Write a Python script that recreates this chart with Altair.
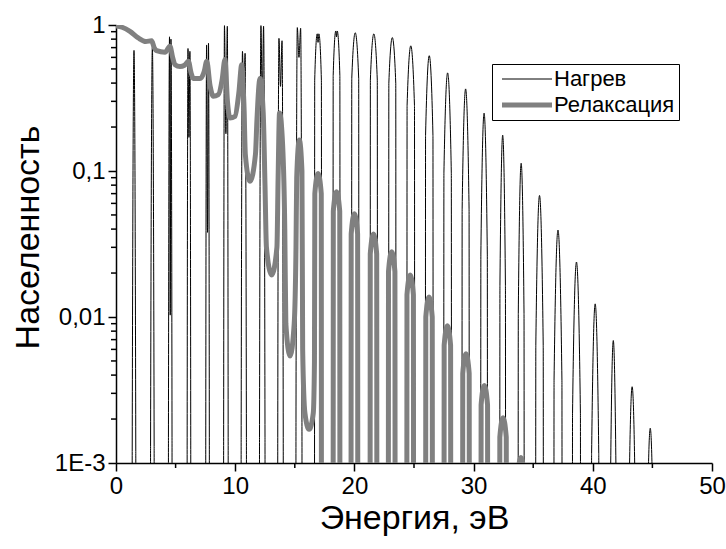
import altair as alt
import pandas as pd

# ---- data ----
series_names = ["Нагрев", "Релаксация"]

heat_x = [
    1.34, 1.36, 1.51, 1.66, 1.68,
    2.88, 2.90, 3.05, 3.20, 3.22,
    4.38, 4.40, 4.49, 4.55, 4.61, 4.70, 4.72,
    5.95, 5.97, 6.04, 6.12, 6.20, 6.27, 6.29,
    7.51, 7.53, 7.60, 7.68, 7.76, 7.83, 7.85,
    9.01, 9.03, 9.10, 9.22, 9.34, 9.41, 9.43,
    10.48, 10.50, 10.61, 10.72, 10.83, 10.94, 10.96,
    12.02, 12.04, 12.16, 12.27, 12.38, 12.50, 12.52,
    13.55, 13.57, 13.67, 13.80, 13.93, 14.03, 14.05,
    15.07, 15.10, 15.21, 15.35, 15.49, 15.60, 15.63,
    16.64, 16.67, 16.88, 16.95, 17.02, 17.23, 17.26,
    18.19, 18.22, 18.44, 18.50, 18.56, 18.78, 18.81,
    19.75, 19.78, 20.07, 20.36, 20.39,
    21.31, 21.34, 21.63, 21.92, 21.95,
    22.86, 22.89, 23.18, 23.47, 23.50,
    24.39, 24.42, 24.73, 25.04, 25.07,
    25.94, 25.97, 26.28, 26.59, 26.62,
    27.48, 27.51, 27.82, 28.13, 28.16,
    29.01, 29.04, 29.33, 29.62, 29.65,
    30.58, 30.61, 30.88, 31.15, 31.18,
    32.18, 32.21, 32.44, 32.67, 32.70,
    33.72, 33.75, 33.99, 34.23, 34.26,
    35.19, 35.22, 35.53, 35.84, 35.87,
    36.72, 36.75, 37.08, 37.41, 37.44,
    38.27, 38.30, 38.63, 38.96, 38.99,
    39.87, 39.90, 40.20, 40.50, 40.53,
    41.45, 41.48, 41.72, 41.96, 41.99,
    42.97, 43.00, 43.30, 43.60, 43.63,
    44.49, 44.52, 44.82, 45.12, 45.15,
]
heat_y = [
    1e-6, 0.0012, 0.67, 0.0012, 1e-6,
    1e-6, 0.0013, 0.70, 0.0013, 1e-6,
    1e-6, 0.0015, 0.83, 0.0103, 0.80, 0.0015, 1e-6,
    1e-6, 0.0015, 0.69, 0.17, 0.66, 0.0015, 1e-6,
    1e-6, 0.0015, 0.73, 0.038, 0.75, 0.0015, 1e-6,
    1e-6, 0.0015, 0.99, 0.18, 0.98, 0.0015, 1e-6,
    1e-6, 0.0015, 0.66, 0.30, 0.64, 0.0015, 1e-6,
    1e-6, 0.0015, 0.99, 0.30, 0.98, 0.0015, 1e-6,
    1e-6, 0.0015, 0.81, 0.38, 0.78, 0.0015, 1e-6,
    1e-6, 0.0020, 0.96, 0.60, 0.95, 0.0020, 1e-6,
    1e-6, 0.42, 0.87, 0.76, 0.87, 0.42, 1e-6,
    1e-6, 0.45, 0.91, 0.83, 0.91, 0.45, 1e-6,
    1e-6, 0.43, 0.885, 0.43, 1e-6,
    1e-6, 0.42, 0.87, 0.42, 1e-6,
    1e-6, 0.40, 0.82, 0.40, 1e-6,
    1e-6, 0.28, 0.72, 0.28, 1e-6,
    1e-6, 0.175, 0.616, 0.175, 1e-6,
    1e-6, 0.097, 0.47, 0.097, 1e-6,
    1e-6, 0.055, 0.365, 0.055, 1e-6,
    1e-6, 0.027, 0.249, 0.027, 1e-6,
    1e-6, 0.0165, 0.176, 0.0165, 1e-6,
    1e-6, 0.0106, 0.113, 0.0106, 1e-6,
    1e-6, 0.0064, 0.068, 0.0064, 1e-6,
    1e-6, 0.0037, 0.0394, 0.0037, 1e-6,
    1e-6, 0.0022, 0.0238, 0.0022, 1e-6,
    1e-6, 0.00116, 0.0123, 0.00116, 1e-6,
    1e-6, 0.00065, 0.0069, 0.00065, 1e-6,
    1e-6, 0.00031, 0.00333, 0.00031, 1e-6,
    1e-6, 0.00016, 0.00173, 0.00016, 1e-6,
]

relax_x = [
    0.0, 0.5, 1.17, 1.87, 2.5, 2.99, 3.2, 3.41, 4.11, 4.53, 4.75, 4.95,
    5.37, 5.75, 6.07, 6.3, 6.48, 7.05, 7.4, 7.61, 7.9, 8.16, 8.58, 8.9,
    9.14, 9.35, 9.56, 9.98, 10.3, 10.55,
    10.75, 10.85, 11.24, 11.7, 11.82, 12.08,
    12.35, 12.5, 12.62, 13.06, 13.5, 13.6, 13.72,
    13.98, 14.16, 14.25, 14.6, 14.95, 15.1, 15.16, 15.38,
    15.6, 15.66, 15.85, 16.2, 16.55, 16.65, 16.68, 16.95, 17.22, 17.25,
    18.2, 18.23, 18.5, 18.77, 18.8,
    19.7, 19.73, 20.0, 20.27, 20.3,
    21.3, 21.33, 21.6, 21.87, 21.9,
    22.83, 22.86, 23.13, 23.4, 23.43,
    24.38, 24.41, 24.68, 24.95, 24.98,
    25.96, 25.99, 26.26, 26.53, 26.56,
    27.5, 27.53, 27.8, 28.07, 28.1,
    29.06, 29.09, 29.36, 29.63, 29.66,
    30.6, 30.63, 30.9, 31.17, 31.2,
    32.17, 32.2, 32.47, 32.74, 32.77,
    33.67, 33.7, 33.97, 34.24, 34.27,
]
relax_y = [
    0.985, 0.965, 0.905, 0.815, 0.77, 0.78, 0.70, 0.667, 0.65, 0.715, 0.60, 0.535,
    0.52, 0.53, 0.565, 0.47, 0.43, 0.43, 0.48, 0.565, 0.38, 0.325, 0.333, 0.42,
    0.58, 0.30, 0.231, 0.237, 0.34, 0.535,
    0.25, 0.13, 0.085, 0.13, 0.22, 0.43,
    0.25, 0.08, 0.03, 0.0194, 0.03, 0.09, 0.25,
    0.15, 0.04, 0.009, 0.0054, 0.009, 0.03, 0.09, 0.163,
    0.10, 0.006, 0.0022, 0.0017, 0.0022, 0.005, 0.07, 0.096, 0.07, 1e-6,
    1e-6, 0.053, 0.072, 0.053, 1e-6,
    1e-6, 0.037, 0.051, 0.037, 1e-6,
    1e-6, 0.027, 0.037, 0.027, 1e-6,
    1e-6, 0.0204, 0.028, 0.0204, 1e-6,
    1e-6, 0.0142, 0.0194, 0.0142, 1e-6,
    1e-6, 0.010, 0.0137, 0.010, 1e-6,
    1e-6, 0.0064, 0.0087, 0.0064, 1e-6,
    1e-6, 0.0041, 0.0056, 0.0041, 1e-6,
    1e-6, 0.0025, 0.0034, 0.0025, 1e-6,
    1e-6, 0.0015, 0.00204, 0.0015, 1e-6,
    1e-6, 0.0008, 0.00109, 0.0008, 1e-6,
]

x_major = [0, 10, 20, 30, 40, 50]
x_minor = [5, 15, 25, 35, 45]
y_major = [0.001, 0.01, 0.1, 1]
y_minor = [0.002, 0.003, 0.004, 0.005, 0.006, 0.007, 0.008, 0.009,
           0.02, 0.03, 0.04, 0.05, 0.06, 0.07, 0.08, 0.09,
           0.2, 0.3, 0.4, 0.5, 0.6, 0.7, 0.8, 0.9]

# ---- build tables ----
df = pd.DataFrame({
    "E": heat_x + relax_x,
    "N": heat_y + relax_y,
    "series": [series_names[0]] * len(heat_x) + [series_names[1]] * len(relax_x),
})

font = "Liberation Sans"
x_scale = alt.Scale(domain=[0, 50], nice=False, zero=False)
y_scale = alt.Scale(type="log", domain=[0.001, 1], nice=False)

y_label_expr = ("datum.value < 0.005 ? '1E-3' : datum.value < 0.05 ? '0,01' : "
                "datum.value < 0.5 ? '0,1' : '1'")

x_axis = alt.Axis(
    values=x_major, format="d", title="Энергия, эВ", titleFontSize=34,
    titleY=65, titleBaseline="alphabetic", labelFontSize=24, labelPadding=3,
    tickSize=8, labelFlush=False, labelOverlap=False)
y_axis = alt.Axis(
    values=y_major, labelExpr=y_label_expr, title="Населенность", titleFontSize=34,
    titleAngle=270, titleX=-78, titleY=212, titleBaseline="alphabetic",
    titleAlign="center", labelFontSize=24, labelPadding=3, tickSize=8,
    labelFlush=False, labelOverlap=False)

legend = alt.Legend(
    title=None, orient="none", legendX=376, legendY=39, direction="vertical",
    symbolType="M-1,0H9", symbolSize=100, labelFontSize=22, labelFont=font,
    labelColor="black", strokeColor="black", fillColor="white",
    padding=4, rowPadding=4, labelOffset=36,
)

lines = alt.Chart(df).mark_line(clip=True, interpolate="monotone", strokeJoin="round").encode(
    x=alt.X("E:Q", scale=x_scale, axis=x_axis),
    y=alt.Y("N:Q", scale=y_scale, axis=y_axis),
    color=alt.Color("series:N", scale=alt.Scale(domain=series_names, range=["#000000", "#808080"]),
                    legend=legend),
    strokeWidth=alt.StrokeWidth("series:N", scale=alt.Scale(domain=series_names, range=[1.0, 5.0]),
                                legend=legend),
)

xminor = alt.Chart(pd.DataFrame({"E": x_minor})).mark_rule(color="black", strokeWidth=1.5).encode(
    x=alt.X("E:Q", scale=x_scale, axis=x_axis),
    y=alt.value(438), y2=alt.value(443),
)
yminor = alt.Chart(pd.DataFrame({"N": y_minor})).mark_rule(color="black", strokeWidth=1.5).encode(
    y=alt.Y("N:Q", scale=y_scale, axis=y_axis),
    x=alt.value(0), x2=alt.value(-5),
)

chart = alt.layer(lines, xminor, yminor).properties(
    width=596, height=438,
    autosize=alt.AutoSizeParams(type="none"),
    padding={"left": 116, "top": 25, "right": 14, "bottom": 86},
).configure_view(strokeOpacity=0).configure_axis(
    grid=False, domainColor="black", domainWidth=1.5, tickColor="black", tickWidth=1.5,
    labelColor="black", titleColor="black", labelFont=font, titleFont=font,
    titleFontWeight="normal",
)

chart.save("out.html", embed_options={"renderer": "svg", "actions": False})
